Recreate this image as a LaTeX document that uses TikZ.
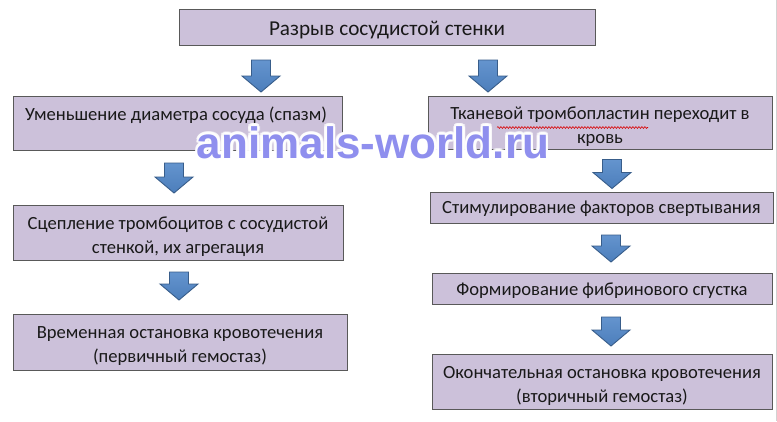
\documentclass[tikz,border=0pt]{standalone}
\usepackage{fontspec}
\setmainfont{Carlito}
\newfontfamily\wmfont{Liberation Sans}
\usetikzlibrary{decorations.pathmorphing,calc}
\definecolor{boxfill}{RGB}{204,193,218}
\definecolor{boxline}{RGB}{89,89,89}
\definecolor{arrfill}{RGB}{76,126,187}
\definecolor{arrtop}{RGB}{100,148,206}
\definecolor{arrline}{RGB}{56,93,138}
\definecolor{wmcol}{RGB}{128,128,236}
\tikzset{
  box/.style={draw=boxline, line width=0.9pt, fill=boxfill, inner sep=0pt},
  boxtext/.style={align=center, inner sep=0pt, font=\fontsize{18.6}{23.5}\selectfont, text=black!90},
  blockarrow/.style={draw=arrline, line width=0.9pt, top color=arrtop,
    bottom color=arrfill, line join=miter},
}
% \barrow{name}{x}{y}{half length}
\newcommand\barrow[4]{%
  \coordinate (#1) at (#2,#3);
  \path[blockarrow, shift={(#1)}]
    (-9.5,-#4) -- (9.5,-#4) -- (9.5,#4-16) -- (19,#4-16) -- (0,#4)
    -- (-19,#4-16) -- (-9.5,#4-16) -- cycle;
}
\begin{document}
\begin{tikzpicture}[x=1pt,y=-1pt]
\useasboundingbox[fill=white] (0,0) rectangle (777,421);
\coordinate (e1) at (776.3,0);
\coordinate (e2) at (776.3,421);
\draw[gray!35, line width=0.8pt] (e1) -- (e2);
% boxes
\node[box, minimum width=416pt, minimum height=36pt] (top) at (387,27) {};
\node[box, minimum width=329pt, minimum height=54pt] (l1) at (177.5,123) {};
\node[box, minimum width=330pt, minimum height=55pt] (l2) at (178,232.5) {};
\node[box, minimum width=334pt, minimum height=56pt] (l3) at (180,342) {};
\node[box, minimum width=344pt, minimum height=53pt] (r1) at (600,122.5) {};
\node[box, minimum width=343pt, minimum height=31pt] (r2) at (601.5,207.5) {};
\node[box, minimum width=340pt, minimum height=31pt] (r3) at (602,288.5) {};
\node[box, minimum width=340pt, minimum height=55pt] (r4) at (602,381.5) {};
% texts
\node[boxtext, font=\fontsize{21.2}{25}\selectfont] (topt) at ($(top.center)+(0,3)$) {Разрыв сосудистой стенки};
\node[boxtext, anchor=base] (l1t) at (176,120) {Уменьшение диаметра сосуда (спазм)};
\node[boxtext] (l2t) at ($(l2.center)+(0,4)$) {Сцепление тромбоцитов с сосудистой\\стенкой, их агрегация};
\node[boxtext] (l3t) at ($(l3.center)+(0,4)$) {Временная остановка кровотечения\\(первичный гемостаз)};
\node[boxtext] (r1t) at ($(r1.center)+(0,4)$) {Тканевой тромбопластин переходит в\\кровь};
\node[boxtext] (r2t) at ($(r2.center)+(0,1)$) {Стимулирование факторов свертывания};
\node[boxtext] (r3t) at ($(r3.center)+(0,2)$) {Формирование фибринового сгустка};
\node[boxtext] (r4t) at ($(r4.center)+(0,4.5)$) {Окончательная остановка кровотечения\\(вторичный гемостаз)};
% spell-check underline
\coordinate (w1) at (497,127.5);
\coordinate (w2) at (648,127.5);
\draw[red!85!black, line width=0.6pt, decorate, decoration={snake, amplitude=0.9pt, segment length=3pt}] (w1) -- (w2);
% block arrows
\barrow{a1}{261}{76}{16}
\barrow{a2}{488}{76}{16}
\barrow{a3}{174}{178}{15}
\barrow{a4}{179}{286}{14}
\barrow{a5}{612}{174}{14.5}
\barrow{a6}{611}{248.5}{13.5}
\barrow{a7}{611}{331.5}{14.5}
% watermark
\foreach \ang in {0,22.5,...,359}{
  \node[font=\wmfont\bfseries\fontsize{44}{44}\selectfont, text=white, anchor=base, text opacity=0.6]
    at ($(373,158)+(\ang:2.8)$) {animals-world.ru};
}
\node[font=\wmfont\bfseries\fontsize{44}{44}\selectfont, text=wmcol, text opacity=0.88, anchor=base] (wm) at (373,158) {animals-world.ru};
\end{tikzpicture}
\end{document}
